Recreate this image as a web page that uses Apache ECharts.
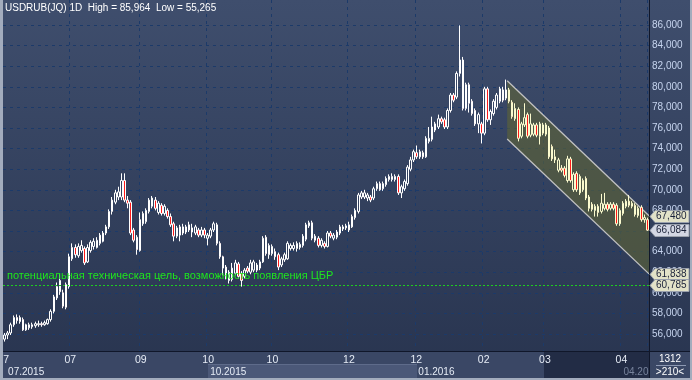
<!DOCTYPE html>
<html><head><meta charset="utf-8">
<script src="https://cdn.jsdelivr.net/npm/echarts@6/dist/echarts.min.js"></script>
<style>html,body{margin:0;padding:0;background:#34415e;}#chart{width:692px;height:380px;}</style>
</head><body><div id="chart"></div>
<script>
// daily candles, each row: [open, close, low, high]
const jul2015 = [[55.5,55.9,55.265,56.1],[55.9,56.1,55.5,56.3],[56.1,56.9,55.9,57.1],[56.9,57.6,56.7,57.8],[57.6,57.3,57.0,57.9],[57.2,57.6,57.0,57.8],[57.4,56.4,56.3,57.6],[56.4,56.9,56.3,57.0],[56.6,56.9,56.4,57.1],[56.7,56.9,56.5,57.1],[56.8,57.0,56.6,57.2],[56.9,57.0,56.7,57.3],[57.0,56.9,56.7,57.2],[56.9,57.1,56.8,57.3],[57.0,57.4,56.9,57.5],[57.4,58.2,57.2,58.4],[58.2,59.6,58.0,59.8],[59.5,60.6,59.3,61.0],[60.1,61.2,59.8,61.8],[60.0,58.7,58.5,60.3],[58.6,60.8,58.4,61.0],[60.6,63.5,60.4,63.8],[63.3,64.4,63.1,64.8]];
const aug2015 = [[64.4,63.7,63.4,64.7],[63.6,64.5,63.4,64.8],[64.1,64.6,63.9,65.1],[64.3,62.9,62.7,64.5],[63.0,64.4,62.9,64.7],[64.1,64.9,63.9,65.1],[64.5,65.0,64.2,65.3],[64.4,65.1,64.3,65.4],[64.8,65.6,64.6,65.8],[65.0,65.8,64.9,66.0],[65.8,66.4,65.6,66.6],[66.4,67.9,66.2,68.1],[67.9,69.0,67.6,69.3],[68.8,69.7,68.6,70.0],[69.3,69.8,69.0,70.3],[69.3,70.9,69.0,71.6],[70.9,69.0,68.8,71.6],[69.0,68.7,68.2,69.4],[68.8,65.8,65.6,69.0],[66.1,65.1,64.9,66.3],[65.4,64.2,63.7,65.6]];
const sep2015 = [[64.1,67.1,64.0,67.8],[66.7,67.7,66.5,67.9],[66.9,68.0,66.7,68.2],[67.9,69.0,67.7,69.2],[68.4,69.2,68.2,69.4],[69.0,68.2,68.0,69.3],[67.8,68.7,67.6,68.9],[68.5,67.7,67.5,68.7],[67.7,68.4,67.5,68.6],[68.0,67.4,67.2,68.2],[67.4,66.6,66.4,67.7],[66.7,65.5,65.0,66.9],[65.5,66.3,65.3,66.5],[65.6,66.4,65.0,66.6],[66.4,65.8,65.6,66.7],[65.9,66.4,65.7,66.6],[66.1,66.6,65.9,66.9],[66.3,65.9,65.4,66.7],[65.8,66.4,65.6,66.6],[66.1,65.6,65.4,66.3],[65.6,66.1,65.4,66.4],[66.1,65.6,65.3,66.3]];
const oct2015 = [[65.3,65.6,64.6,65.8],[65.5,66.1,65.3,66.3],[66.1,66.7,65.9,66.9],[66.6,64.8,64.6,66.8],[64.8,63.5,63.3,65.0],[63.5,62.4,61.7,63.6],[62.5,61.6,61.3,62.7],[61.2,62.0,60.9,62.2],[61.3,62.4,61.1,62.9],[61.9,62.9,61.7,63.2],[62.8,61.6,61.4,63.0],[61.9,61.2,60.6,62.1],[61.6,62.2,61.4,62.4],[62.4,62.1,61.9,62.6],[62.0,62.9,61.8,63.2],[62.2,63.0,62.0,63.2],[62.7,62.2,62.0,62.9],[62.4,63.0,62.2,63.2],[63.0,65.3,62.9,65.5],[65.4,63.8,63.6,65.6],[63.7,64.6,63.3,64.8],[63.8,64.5,63.6,64.7]];
const nov2015 = [[64.0,63.5,63.2,64.3],[63.7,62.5,62.2,63.9],[62.7,63.3,62.5,63.5],[63.2,63.7,63.0,63.9],[63.3,64.8,63.2,65.0],[64.3,64.6,64.1,64.8],[64.3,64.6,64.1,64.9],[64.3,64.8,64.0,65.0],[64.4,64.7,64.2,64.9],[64.6,65.5,64.4,65.7],[65.2,66.6,65.0,66.8],[66.5,66.8,66.3,67.0],[66.8,65.3,65.1,67.0],[65.1,65.5,64.9,65.7],[65.3,64.6,64.4,65.5],[64.6,65.1,64.4,65.3],[64.8,64.5,64.3,65.0],[64.5,65.8,64.4,66.0],[65.8,65.5,65.3,66.0],[65.3,65.6,65.1,65.8],[65.4,65.9,65.2,66.1]];
const dec2015 = [[65.8,66.4,65.6,66.6],[66.2,66.4,66.0,66.6],[66.3,66.5,66.1,66.7],[66.1,66.6,65.9,66.9],[66.4,67.4,66.3,67.6],[67.3,68.0,67.1,68.2],[67.9,69.5,67.7,69.7],[69.3,69.7,69.1,69.9],[69.3,69.7,69.1,70.0],[69.2,69.5,68.9,69.7],[69.3,69.0,68.8,69.5],[69.2,70.1,69.0,70.3],[70.1,70.6,69.9,70.8],[70.6,70.0,69.9,70.8],[70.1,70.6,69.9,70.8],[70.5,71.1,70.3,71.3],[71.0,71.3,70.8,71.5],[71.0,71.3,70.8,71.6],[71.0,71.3,70.8,71.5],[71.3,69.7,69.5,71.5],[69.7,70.3,69.2,70.5],[70.1,70.8,69.9,71.0],[70.6,72.2,70.4,72.4]];
const jan2016 = [[72.0,72.9,71.8,73.2],[72.9,73.7,72.7,73.9],[73.6,73.2,73.0,74.3],[73.2,73.7,73.0,73.9],[73.6,73.2,73.0,73.8],[73.2,75.0,73.1,75.2],[74.7,75.0,74.5,76.1],[74.9,76.1,74.7,77.1],[75.8,76.4,75.6,76.6],[76.1,76.9,75.9,77.3],[76.9,76.6,76.4,77.1],[76.8,76.1,75.9,77.0],[76.1,77.7,75.9,77.9],[77.7,79.2,77.5,79.4],[79.2,78.7,78.5,79.4],[79.0,81.3,78.8,81.5],[81.3,82.6,81.0,85.964],[82.6,77.9,77.7,82.9],[77.9,80.2,77.7,80.4],[80.2,78.4,77.5,80.4],[78.6,77.4,77.2,78.8]];
const feb2016 = [[77.7,76.4,76.2,77.9],[76.4,77.3,75.5,77.5],[76.4,75.5,74.5,76.6],[75.5,79.8,75.3,80.0],[79.8,76.8,76.6,80.0],[76.8,77.6,76.3,77.8],[77.4,78.6,77.2,78.8],[78.0,79.2,77.8,79.4],[78.6,79.8,78.4,80.0],[79.7,78.7,78.5,80.0],[78.9,79.7,78.7,80.7],[79.7,78.6,78.4,79.9],[78.5,77.1,76.9,78.7],[76.9,77.9,76.7,78.4],[77.8,75.0,74.7,78.0],[75.2,76.4,75.0,76.6],[76.3,77.0,76.1,78.4],[77.3,75.2,75.0,77.5],[75.3,76.4,75.1,77.4],[75.4,76.3,75.2,76.5],[76.3,75.3,75.1,76.5]];
const mar2016 = [[75.2,76.4,74.4,76.6],[76.3,75.5,75.3,76.5],[75.4,76.3,75.2,76.5],[76.0,73.2,73.0,76.2],[74.2,73.0,72.8,74.4],[72.9,73.2,72.6,73.9],[71.9,72.9,71.7,73.1],[72.1,71.9,71.7,72.4],[72.1,71.4,71.2,72.3],[70.9,73.0,70.7,73.3],[73.0,70.9,70.7,73.2],[70.0,71.5,69.8,71.7],[71.6,70.0,69.8,71.8],[69.7,71.3,69.5,71.5],[70.0,70.9,69.8,71.1],[71.1,69.2,69.0,71.3],[68.2,69.3,67.9,69.5],[68.6,68.1,67.9,68.8],[68.0,68.4,67.4,68.6],[68.4,67.8,67.4,68.6],[67.9,68.7,67.7,69.6],[68.2,68.6,68.0,69.7],[68.6,68.1,67.9,68.8]];
const apr2016 = [[68.2,68.6,68.0,68.8],[68.6,68.2,68.0,68.8],[68.5,66.7,66.5,68.7],[66.7,68.0,66.5,68.2],[67.7,68.7,67.5,68.9],[68.4,68.9,68.2,69.1],[68.9,68.5,68.3,69.5],[68.4,68.7,68.2,68.9],[68.5,67.6,67.4,68.7],[67.5,68.2,67.3,68.4],[68.3,67.1,66.9,68.5],[67.1,67.3,66.8,67.6],[67.1,66.084,66.0,67.3]];

const monthTickIdx  = [0, 21, 44, 66, 87, 112, 134, 156, 176, 201];
const monthTickText = ['7', '07', '09', '10', '10', '12', '12', '02', '03', '04'];
const periodTickIdx  = [0, 66, 134, 201];
const periodTickText = ['07.2015', '10.2015', '01.2016', '04.20'];

const channelX     = [163.4, 209.5];
const channelUpper = [80.59, 67.48];
const channelLower = [74.93, 61.838];
const targetLevel  = 60.785;
const targetText   = 'потенциальная техническая цель, возможность появления ЦБР';
const totalBarsText = '1312';
const shownBarsText = '>210<';
const yMin = 54, yMax = 88, yStep = 2;

const bars = [].concat(jul2015, aug2015, sep2015, oct2015, nov2015, dec2015, jan2016, feb2016, mar2016, apr2016);

const dates = [];
(function () {
  const d = new Date('2015-07-01T00:00:00Z');
  while (dates.length < bars.length) {
    const w = d.getUTCDay();
    if (w !== 0 && w !== 6) dates.push(d.toISOString().slice(0, 10));
    d.setUTCDate(d.getUTCDate() + 1);
  }
})();

const fmt = v => v.toFixed(3).replace('.', ',');
const FONT = '"Liberation Sans", Arial, sans-serif';
const hi = Math.max.apply(null, bars.map(b => b[3]));
const lo = Math.min.apply(null, bars.map(b => b[2]));
const chStart = Math.ceil(channelX[0]);
const candleData = bars.map((b, i) => i >= chStart
  ? { value: b, itemStyle: { borderColor: '#fbfbcf', borderColor0: '#fbfbcf' } }
  : b);

const chart = echarts.init(document.getElementById('chart'), null, { renderer: 'canvas' });

const baseGraphics = [
  { id: 'bg', type: 'rect', z: -20, shape: { x: 0, y: 0, width: 692, height: 380 },
    style: { fill: new echarts.graphic.LinearGradient(0, 0, 0, 1, [
      { offset: 0, color: '#3f4e6d' }, { offset: 1, color: '#28344f' }]) } },
  { id: 'band', type: 'rect', z: -10, shape: { x: 3, y: 351, width: 689, height: 27 }, style: { fill: '#3a4765' } },
  { id: 'bandMid', type: 'rect', z: -9, shape: { x: 208, y: 364, width: 209, height: 14 }, style: { fill: '#4b5878' } },
  { id: 'bandMidLine', type: 'rect', z: -9, shape: { x: 208, y: 364, width: 209, height: 1 }, style: { fill: '#5e6b8a' } },
  { id: 'bandDark', type: 'rect', z: -9, shape: { x: 544, y: 352, width: 105, height: 26 }, style: { fill: '#222c45' } },
  { id: 'vsep', type: 'rect', z: 50, shape: { x: 649, y: 0, width: 1, height: 378 }, style: { fill: '#10172a' } },
  { id: 'hsep', type: 'rect', z: 50, shape: { x: 3, y: 351, width: 689, height: 1 }, style: { fill: '#10172a' } },
  { id: 'bl', type: 'rect', z: 60, shape: { x: 0, y: 0, width: 3, height: 380 }, style: { fill: '#a3acbd' } },
  { id: 'bb', type: 'rect', z: 60, shape: { x: 0, y: 378, width: 692, height: 2 }, style: { fill: '#a3acbd' } },
  { id: 'br', type: 'rect', z: 60, shape: { x: 690, y: 0, width: 2, height: 380 }, style: { fill: '#a3acbd' } },
  { id: 'title', type: 'text', z: 60, x: 5, y: 3,
    style: { text: 'USDRUB(JQ) 1D  High = ' + fmt(hi) + '  Low = ' + fmt(lo), fill: '#ffffff', font: '10px ' + FONT } },
  { id: 'tot', type: 'text', z: 60, x: 670, y: 359,
    style: { text: totalBarsText, fill: '#ffffff', font: '10px ' + FONT, textAlign: 'center', textVerticalAlign: 'middle' } },
  { id: 'totLine', type: 'rect', z: 60, shape: { x: 656, y: 365, width: 30, height: 1 }, style: { fill: '#8c98b2' } },
  { id: 'shown', type: 'text', z: 60, x: 670, y: 372,
    style: { text: shownBarsText, fill: '#ffffff', font: '10px ' + FONT, textAlign: 'center', textVerticalAlign: 'middle' } }
];

const option = {
  animation: false,
  backgroundColor: 'transparent',
  grid: [
    { left: 3, right: 43, top: 4.4, bottom: 25.4 },
    { left: 4.54, right: 44.54, top: 0, bottom: 29 }
  ],
  xAxis: [
    { type: 'category', gridIndex: 0, data: dates, boundaryGap: true, show: false },
    { type: 'category', gridIndex: 1, data: dates, boundaryGap: true, position: 'bottom',
      axisLine: { show: false }, axisTick: { show: false },
      splitLine: { show: true, interval: (i) => i > 0 && monthTickIdx.indexOf(i) >= 0,
        lineStyle: { color: '#1c3a69', type: [3, 4], width: 1 } },
      axisLabel: { interval: (i) => monthTickIdx.indexOf(i) >= 0,
        formatter: (v, i) => monthTickText[monthTickIdx.indexOf(i)] || '',
        color: '#e6ecf6', fontFamily: FONT, fontSize: 10.5, margin: 4 } },
    { type: 'category', gridIndex: 1, data: dates, boundaryGap: true, position: 'bottom', offset: 0,
      axisLine: { show: false }, axisTick: { show: false }, splitLine: { show: false },
      axisLabel: { interval: (i) => periodTickIdx.indexOf(i) >= 0,
        formatter: (v, i) => {
          const k = periodTickIdx.indexOf(i);
          if (k < 0) return '';
          return k === periodTickIdx.length - 1 ? '{g|' + periodTickText[k] + '}' : periodTickText[k];
        },
        rich: { g: { color: '#77839c', fontFamily: FONT, fontSize: 10 } },
        align: 'left', padding: [0, 0, 0, 2],
        color: '#e6ecf6', fontFamily: FONT, fontSize: 10, margin: 16 } },
    { type: 'value', gridIndex: 0, min: -0.5, max: bars.length - 0.5, show: false }
  ],
  yAxis: [
    { type: 'value', gridIndex: 0, position: 'right', min: yMin, max: yMax, interval: yStep,
      axisLine: { show: false }, axisTick: { show: false },
      splitLine: { show: true, showMinLine: false, showMaxLine: false,
        lineStyle: { color: '#1c3a69', type: [3, 4], width: 1 } },
      axisLabel: { margin: 3, color: '#c6d4ee', fontFamily: FONT, fontSize: 10,
        formatter: v => (v <= yMin + 0.5 || v >= yMax - 0.5) ? '' : fmt(v) } },
    { type: 'value', gridIndex: 1, show: false }
  ],
  series: [
    { type: 'custom', name: 'channel', xAxisIndex: 3, yAxisIndex: 0, z: 1,
      data: [[channelX[0], channelUpper[0]]],
      renderItem: (params, api) => {
        const u0 = api.coord([channelX[0], channelUpper[0]]);
        const u1 = api.coord([channelX[1], channelUpper[1]]);
        const l0 = api.coord([channelX[0], channelLower[0]]);
        const l1 = api.coord([channelX[1], channelLower[1]]);
        return { type: 'group', children: [
          { type: 'polygon', shape: { points: [u0, u1, l1, l0] }, style: { fill: 'rgba(96,102,52,0.58)' } },
          { type: 'line', shape: { x1: u0[0], y1: u0[1], x2: u1[0], y2: u1[1] }, style: { stroke: '#c2c2c2', lineWidth: 1.3 } },
          { type: 'line', shape: { x1: l0[0], y1: l0[1], x2: l1[0], y2: l1[1] }, style: { stroke: '#c2c2c2', lineWidth: 1.3 } }
        ] };
      } },
    { type: 'candlestick', name: 'USDRUB', xAxisIndex: 0, yAxisIndex: 0, z: 3,
      barWidth: 2,
      itemStyle: { color: 'rgba(0,0,0,0)', color0: '#ff1a1a', borderColor: '#ffffff', borderColor0: '#ffffff', borderWidth: 1 },
      data: candleData,
      markLine: { silent: true, symbol: ['none', 'none'], animation: false,
        lineStyle: { color: '#1ed01e', type: [2, 2], width: 1 },
        label: { show: true, position: 'insideStartTop', formatter: targetText, color: '#1ee61e',
          fontFamily: FONT, fontSize: 11, distance: [4, 3] },
        data: [{ yAxis: targetLevel }] } }
  ],
  graphic: { elements: baseGraphics }
};
chart.setOption(option);

const tagDefs = [
  [channelUpper[1], '#e2e2c8'],
  [bars[bars.length - 1][1], '#d3d7e4'],
  [channelLower[1], '#e2e2c8'],
  [targetLevel, '#e2e2c8']
];
const tagEls = [];
tagDefs.forEach(([v, fill], k) => {
  const y = Math.round(chart.convertToPixel({ yAxisIndex: 0 }, v)) + 0.5;
  tagEls.push({ id: 'tagp' + k, type: 'polygon', z: 100,
    shape: { points: [[650, y], [655, y - 6], [689, y - 6], [689, y + 6], [655, y + 6]] },
    style: { fill, stroke: '#9aa1ad', lineWidth: 1 } });
  tagEls.push({ id: 'tagt' + k, type: 'text', z: 101, x: 656, y: y,
    style: { text: fmt(v), fill: '#1a2138', font: '10px ' + FONT, textVerticalAlign: 'middle' } });
});
chart.setOption({ graphic: { elements: tagEls } });
</script></body></html>
